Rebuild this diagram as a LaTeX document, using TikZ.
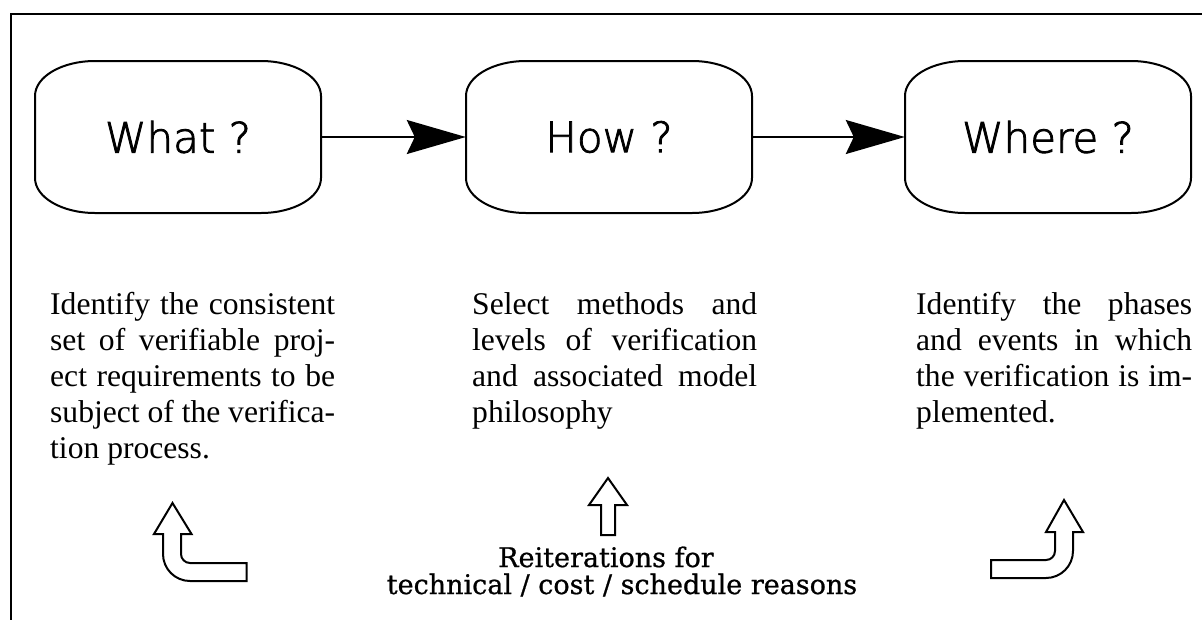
\documentclass[tikz,border=0pt]{standalone}
\usepackage{fontspec}
\setmainfont{Liberation Serif}
\newfontfamily\phasefont[FakeBold=2]{DejaVuSans-ExtraLight.ttf}
\newfontfamily\reitfont[FakeBold=0.8]{DejaVu Serif}
\usetikzlibrary{arrows.meta}

\tikzset{
  boxline/.style={line width=2pt},
  flow/.style={-{Stealth[length=59pt,width=34pt,inset=8pt]},line width=2pt},
  phase/.style={minimum width=286pt,minimum height=152pt,inner sep=0pt,font=\phasefont\fontsize{42}{42}\selectfont},
  note/.style={anchor=base west,text width=285pt,align=justify,inner sep=0pt,font=\fontsize{31.6}{36}\selectfont},
  hollow/.style={line width=2pt,line join=miter}
}

\begin{document}
\begin{tikzpicture}[x=1pt,y=-1pt]
\useasboundingbox (0,0) rectangle (1202,619);
\draw[line width=2.5pt] (11,630) |- (1215,14);
\foreach \cx/\nm/\txt in {178/what/What ?,609/how/How ?,1048/where/Where ?}{
  \draw[boxline] (\cx-83,61) -- (\cx+83,61) arc[start angle=90,end angle=0,x radius=60pt,y radius=35pt] -- (\cx+143,178) arc[start angle=0,end angle=-90,x radius=60pt,y radius=35pt] -- (\cx-83,213) arc[start angle=270,end angle=180,x radius=60pt,y radius=35pt] -- (\cx-143,96) arc[start angle=180,end angle=90,x radius=60pt,y radius=35pt] -- cycle;
  \node[phase] (\nm) at (\cx,137) {\txt};
}
\draw[flow] (what) -- (how);
\draw[flow] (how) -- (where);
\node[note] (whatnote) at (50,314) {Identify the consistent\linebreak set of verifiable proj-\linebreak ect requirements to be\linebreak subject of the verifica-\linebreak tion process.};
\node[note] (hownote) at (472,314) {Select methods and\linebreak levels of verification\linebreak and associated model\linebreak philosophy};
\node[note,text width=276pt] (wherenote) at (916,314) {Identify the phases\linebreak and events in which\linebreak the verification is im-\linebreak plemented.};
\draw[hollow] (172.5,503) -- (191.5,534) -- (181,534) -- (181,554) arc[start angle=180,end angle=270,radius=9pt] -- (246.5,563) -- (246.5,581) -- (190,581) arc[start angle=270,end angle=180,radius=27pt] -- (163,534) -- (154,534) -- cycle;
\draw[hollow] (608,478) -- (627,505) -- (615,505) -- (615,535) -- (601,535) -- (601,505) -- (589,505) -- cycle;
\draw[hollow] (1064,500) -- (1083,532) -- (1073,532) -- (1073,551) arc[start angle=0,end angle=-90,radius=27pt] -- (991,578) -- (991,560) -- (1046,560) arc[start angle=-90,end angle=0,radius=9pt] -- (1055,532) -- (1046,532) -- cycle;
\node[font=\reitfont\fontsize{27}{27}\selectfont,align=center,anchor=base] (reiter) at (622,594) {Reiterations for\hspace*{32pt}\\technical / cost / schedule reasons};
\end{tikzpicture}
\end{document}
